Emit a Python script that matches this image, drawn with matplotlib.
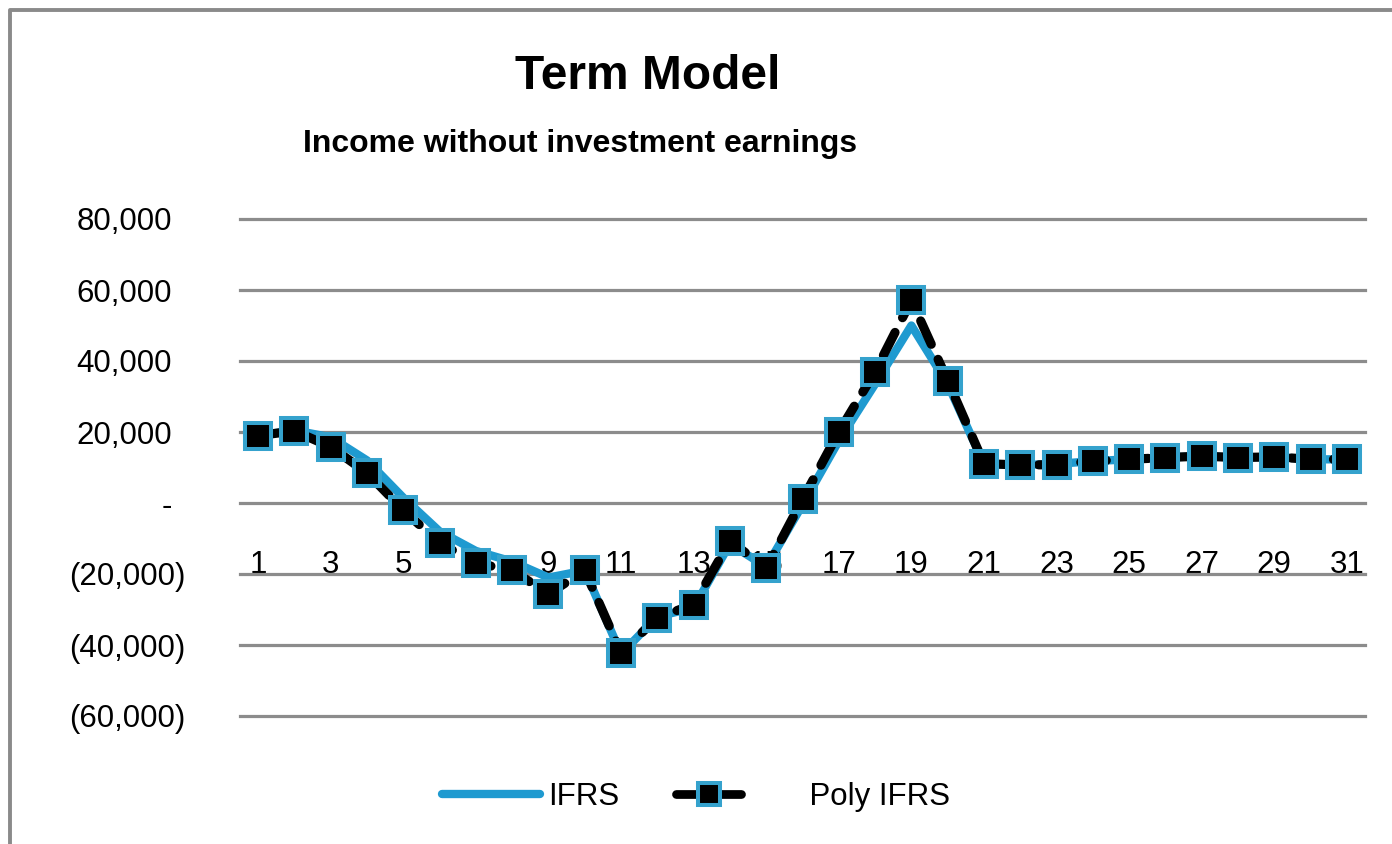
import matplotlib
matplotlib.use("Agg")
import matplotlib.pyplot as plt
from matplotlib.lines import Line2D
from matplotlib.legend_handler import HandlerLine2D

plt.rcParams['font.family'] = ['Liberation Sans', 'DejaVu Sans']

# ---- data ----
periods = list(range(1, 32))
ifrs = [19000, 20500, 18500, 12000, 1500, -8000, -13500, -16500, -21000, -19000,
        -42500, -32000, -29500, -11500, -18000, -500, 17500, 33500, 50000, 33500,
        11000, 10700, 11000, 11800, 12300, 12800, 13200, 12800, 13000, 12300, 12300]
poly_ifrs = [19000, 20300, 15800, 8500, -2000, -11300, -16900, -19000, -25600, -19000,
             -42200, -32300, -28600, -10700, -18400, 1000, 20000, 37000, 57100, 34500,
             11100, 10700, 10800, 11800, 12300, 12800, 13200, 12800, 13000, 12300, 12300]
y_ticks = [-60000, -40000, -20000, 0, 20000, 40000, 60000, 80000]
x_tick_labels = list(range(1, 32, 2))
series_names = ["IFRS", "Poly IFRS"]
title = "Term Model"
subtitle = "Income without investment earnings"

BLUE = '#1F9AD0'
BLUE_EDGE = '#35A2CD'
GRID = '#8C8C8C'

W, H = 1392, 844
fig = plt.figure(figsize=(W / 100, H / 100), dpi=100)
ax = fig.add_axes([240 / W, 1 - 716 / H, (1365 - 240) / W, (716 - 219) / H])

ax.plot(periods, ifrs, color=BLUE, lw=6.0, solid_capstyle='round',
        solid_joinstyle='round', zorder=2)
ax.plot(periods, poly_ifrs, color='black', lw=6.6, linestyle=(0, (2.8, 1.8)),
        dash_capstyle='round', zorder=3)
ax.plot(periods, poly_ifrs, linestyle='none', marker='s', ms=18.5,
        mfc='black', mec=BLUE_EDGE, mew=2.9, zorder=4)

ax.set_xlim(0.5, 31.5)
ax.set_ylim(-60000, 80000)
for s in ax.spines.values():
    s.set_visible(False)
ax.spines['bottom'].set_position(('data', 0))

ax.set_yticks(y_ticks)
def fmt(v):
    if v == 0:
        return '-'
    if v < 0:
        return '({:,})'.format(-v)
    return '{:,}'.format(v)
ax.set_yticklabels([fmt(v) for v in y_ticks], fontsize=22.5)
ax.yaxis.grid(True, color=GRID, lw=2.3)
ax.set_axisbelow(True)
ax.tick_params(axis='y', length=0)
for t, v in zip(ax.yaxis.get_major_ticks(), y_ticks):
    t.set_pad(39.5 if v < 0 else 49)
for gl in ax.get_ygridlines():
    gl.set_clip_on(False)

ax.set_xticks(x_tick_labels)
ax.set_xticklabels([str(v) for v in x_tick_labels], fontsize=22.5)
ax.tick_params(axis='x', length=0, pad=34)

# titles
fig.text(648 / W, 1 - 89 / H, title, ha='center', va='baseline',
         fontsize=34.5, fontweight='bold')
fig.text(580 / W, 1 - 152 / H, subtitle, ha='center', va='baseline',
         fontsize=23, fontweight='bold')

# border (left and top edges of chart frame)
fig.add_artist(Line2D([9.5 / W, 9.5 / W, 1], [0, 1 - 10 / H, 1 - 10 / H],
                      transform=fig.transFigure, color='#8A8A8A', lw=2.8))

# legend
class ShortLine(HandlerLine2D):
    def __init__(self, frac, **kw):
        super().__init__(**kw)
        self.frac = frac

    def create_artists(self, legend, orig_handle, xdescent, ydescent, width,
                       height, fontsize, trans):
        nw = width * self.frac
        return super().create_artists(legend, orig_handle, xdescent - (width - nw),
                                      ydescent, nw, height, fontsize, trans)

h1 = Line2D([], [], color=BLUE, lw=6.0, solid_capstyle='round')
h2 = Line2D([], [], color='black', lw=6.3, solid_capstyle='round', marker='s',
            ms=16.5, mfc='black', mec=BLUE_EDGE, mew=2.9)
fig.legend([h1, h2], [series_names[0], '       ' + series_names[1]],
           loc='center', bbox_to_anchor=(0.5, 1 - 797 / H), ncol=2,
           frameon=False, fontsize=22.5, handlelength=3.14, handletextpad=0.26,
           columnspacing=0.77, numpoints=1,
           handler_map={h2: ShortLine(0.66)})

fig.savefig('out.png', dpi=100, facecolor='white')
